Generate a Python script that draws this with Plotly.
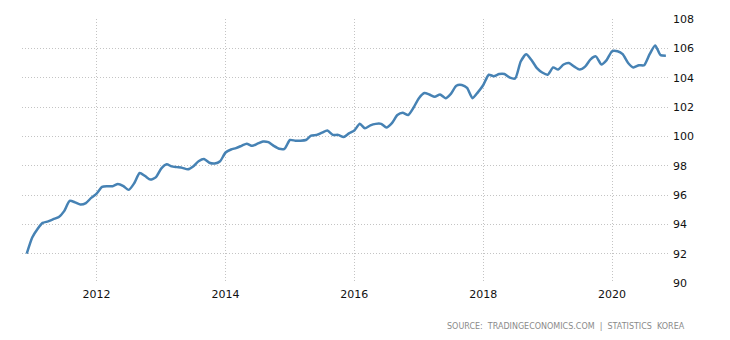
import pandas as pd
import plotly.graph_objects as go

dates = pd.date_range("2010-12-01", "2020-11-01", freq="MS")
values = [
    92.0,
    93.1, 93.7, 94.1, 94.2, 94.35, 94.5, 94.9, 95.6, 95.5, 95.35, 95.45, 95.8,
    96.1, 96.55, 96.6, 96.6, 96.75, 96.6, 96.35, 96.8, 97.5, 97.3, 97.05, 97.2,
    97.8, 98.1, 97.95, 97.9, 97.85, 97.75, 97.95, 98.3, 98.45, 98.2, 98.15, 98.3,
    98.9, 99.1, 99.2, 99.35, 99.5, 99.35, 99.5, 99.65, 99.6, 99.35, 99.15, 99.15,
    99.75, 99.7, 99.7, 99.75, 100.05, 100.1, 100.25, 100.4, 100.1, 100.1, 99.95, 100.2,
    100.4, 100.85, 100.55, 100.75, 100.85, 100.85, 100.6, 100.9, 101.45, 101.6, 101.45, 101.95,
    102.6, 102.95, 102.85, 102.7, 102.85, 102.6, 102.9, 103.45, 103.5, 103.3, 102.6, 103.0,
    103.5, 104.2, 104.1, 104.25, 104.25, 104.0, 103.95, 105.1, 105.6, 105.2, 104.65, 104.35,
    104.2, 104.7, 104.55, 104.9, 105.0, 104.75, 104.55, 104.75, 105.25, 105.45, 104.9, 105.2,
    105.8, 105.8, 105.6, 105.0, 104.7, 104.85, 104.85, 105.6, 106.2, 105.55, 105.5,
]
y_ticks = [90, 92, 94, 96, 98, 100, 102, 104, 106, 108]
x_ticks = ["2012-01-01", "2014-01-01", "2016-01-01", "2018-01-01", "2020-01-01"]
x_tick_labels = ["2012", "2014", "2016", "2018", "2020"]
source_text = "SOURCE:  TRADINGECONOMICS.COM  |  STATISTICS  KOREA"

fig = go.Figure()
fig.add_trace(go.Scatter(
    x=dates, y=values, mode="lines",
    line=dict(color="#4682b4", width=2.5, shape="spline", smoothing=0.6),
    hoverinfo="x+y", showlegend=False,
))

grid = dict(showgrid=True, gridcolor="#c4c4c4", griddash="1px,2px", gridwidth=1, zeroline=False,
            showline=False, ticks="")
fig.update_layout(
    width=730, height=340,
    margin=dict(l=22, r=62, t=19, b=57),
    paper_bgcolor="white", plot_bgcolor="white",
    font=dict(family="DejaVu Sans", size=11, color="#000000"),
    xaxis=dict(**grid, type="date", range=["2010-11-04", "2020-11-13"],
               tickvals=x_ticks, ticktext=x_tick_labels, ticklabelstandoff=3,
               tickfont=dict(size=11, color="#111111")),
    yaxis=dict(**grid, side="right", range=[90, 108], tickvals=y_ticks, ticklabelstandoff=4,
               tickfont=dict(size=11, color="#111111")),
)
fig.add_annotation(
    text=source_text, xref="paper", yref="paper", x=1.03, y=-0.165,
    xanchor="right", yanchor="middle", showarrow=False,
    font=dict(family="DejaVu Sans", size=8, color="#8a8a8a"),
)
fig.write_html("out.html")
